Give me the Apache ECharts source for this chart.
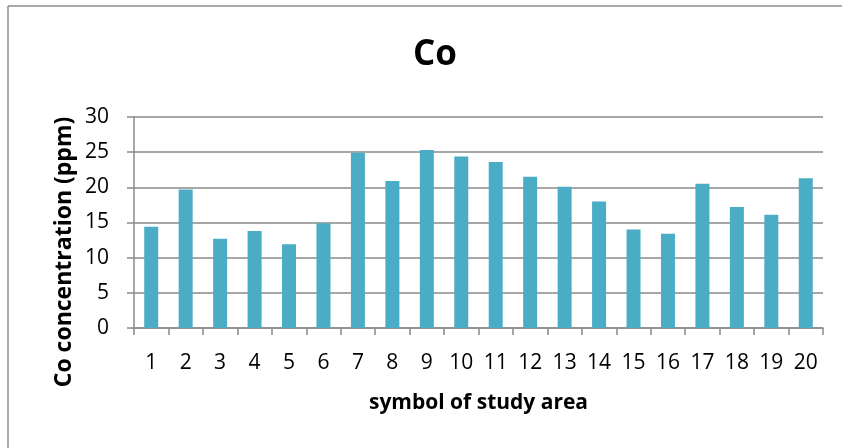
<!DOCTYPE html>
<html>
<head>
<meta charset="utf-8">
<script src="https://cdn.jsdelivr.net/npm/echarts@6/dist/echarts.min.js"></script>
<style>
  html, body { margin: 0; padding: 0; background: #ffffff; }
  #chart { width: 842px; height: 448px; }
</style>
</head>
<body>
<div id="chart"></div>
<script>
// Study area symbols (x categories)
const areas = ['1','2','3','4','5','6','7','8','9','10','11','12','13','14','15','16','17','18','19','20'];
// Co concentration per area, ppm
const coValues = [14.4, 19.7, 12.7, 13.8, 11.9, 14.9, 24.9, 20.9, 25.3, 24.4, 23.6, 21.5, 20.1, 18.0, 14.0, 13.4, 20.5, 17.2, 16.1, 21.3];
// Value axis range
const yMin = 0, yMax = 30, yStep = 5;

const FONT = '"Open Sans", "Noto Sans", sans-serif';
const GRID_COLOR = '#8a8a8a';

const chart = echarts.init(document.getElementById('chart'), null, { renderer: 'canvas' });

chart.setOption({
  animation: false,
  backgroundColor: '#ffffff',
  title: {
    text: 'Co',
    left: 430,
    top: 33,
    textAlign: 'center',
    textStyle: { fontFamily: FONT, fontWeight: 'bold', fontSize: 35, color: '#000000' }
  },
  grid: { left: 134, right: 19, top: 117, bottom: 120, containLabel: false },
  xAxis: {
    type: 'category',
    data: areas,
    name: 'symbol of study area',
    nameLocation: 'middle',
    nameGap: 65,
    nameTextStyle: { fontFamily: FONT, fontWeight: 'bold', fontSize: 21, color: '#000000' },
    axisLine: { show: true, lineStyle: { color: GRID_COLOR, width: 1.5 } },
    axisTick: { show: true, alignWithLabel: false, length: 7, lineStyle: { color: GRID_COLOR, width: 1.5 } },
    axisLabel: { margin: 25, fontFamily: FONT, fontSize: 21, color: '#000000', interval: 0 }
  },
  yAxis: {
    type: 'value',
    min: yMin,
    max: yMax,
    interval: yStep,
    axisLine: { show: true, lineStyle: { color: GRID_COLOR, width: 1.5 } },
    axisTick: { show: true, length: 7, lineStyle: { color: GRID_COLOR, width: 1.5 } },
    splitLine: { show: true, lineStyle: { color: GRID_COLOR, width: 1.5 } },
    axisLabel: { margin: 25, fontFamily: FONT, fontSize: 21, color: '#000000' }
  },
  series: [{
    type: 'bar',
    data: coValues,
    barWidth: 14,
    itemStyle: { color: '#4BACC6' }
  }],
  graphic: [
    // chart frame: left and top edges
    { type: 'line', shape: { x1: 8, y1: 6, x2: 8, y2: 448 }, style: { stroke: '#8c8c8c', lineWidth: 1.5 } },
    { type: 'line', shape: { x1: 8, y1: 6, x2: 842, y2: 6 }, style: { stroke: '#8c8c8c', lineWidth: 1.5 } },
    // value axis title
    {
      type: 'text',
      x: 64,
      y: 252,
      rotation: Math.PI / 2,
      style: {
        text: 'Co concentration (ppm)',
        fontFamily: FONT,
        fontWeight: 'bold',
        fontSize: 23,
        fill: '#000000',
        align: 'center',
        verticalAlign: 'middle'
      }
    }
  ]
});
</script>
</body>
</html>
